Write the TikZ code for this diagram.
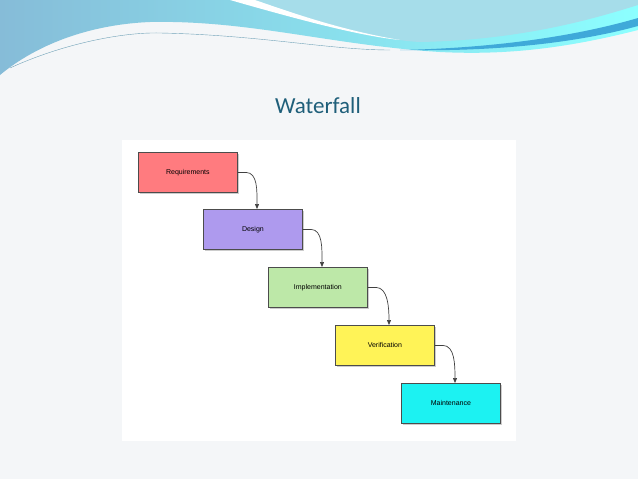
\documentclass[tikz,border=0pt]{standalone}
\usepackage{fontspec}
\setmainfont{Liberation Sans}
\newfontfamily\titlefont{Carlito}
\usetikzlibrary{shadows,arrows.meta}
\definecolor{bgc}{HTML}{F4F6F8}
\definecolor{bandA}{HTML}{86BCD8}
\definecolor{bandB}{HTML}{A6DDEA}
\definecolor{bandC}{HTML}{3FA9D9}
\definecolor{titlec}{HTML}{1F5F7A}
\definecolor{reqc}{HTML}{FF7B7F}
\definecolor{desc}{HTML}{AE9AEE}
\definecolor{impc}{HTML}{BDE8A8}
\definecolor{verc}{HTML}{FFF357}
\definecolor{mainc}{HTML}{1CF2F2}
\begin{document}
\begin{tikzpicture}[x=1pt,y=-1pt,
  stage/.style={draw=black!70,line width=0.8pt,minimum width=99pt,minimum height=40pt,anchor=north west,font=\fontsize{7}{8}\selectfont,drop shadow={shadow xshift=1.5pt,shadow yshift=-2pt,opacity=0.4}},
  flow/.style={draw=black!75,line width=0.7pt,-{Triangle[length=5pt,width=4pt]}}]
\useasboundingbox (0,0) rectangle (638,479);
\fill[bgc] (0,0) rectangle (638,479);
% banner
\shade[left color=bandA,right color=cyan!45!white] (0,0) -- (638,0) -- (638,30) .. controls (560,50) and (500,55) .. (440,52)
  .. controls (330,45) and (250,20) .. (150,22) .. controls (80,25) and (30,50) .. (0,75) -- cycle;
\fill[bandB] (240,0) .. controls (330,25) and (380,40) .. (420,42) .. controls (520,40) and (590,20) .. (638,5) -- (638,0) -- cycle;
\fill[white] (230,0) .. controls (300,20) and (360,36) .. (400,40) .. controls (340,30) and (290,12) .. (255,0) -- cycle;
\draw[cyan!40!gray,line width=0.4pt] (10,68) .. controls (60,45) and (120,32) .. (160,33) .. controls (260,35) and (330,50) .. (390,50);
\fill[bandC] (400,50) .. controls (500,48) and (580,35) .. (638,18) -- (638,26) .. controls (580,42) and (500,52) .. (400,50);
\node[font=\titlefont\fontsize{23}{26}\selectfont,text=titlec] (t) at (318,106) {Waterfall};
\fill[white] (122,140) rectangle (516,441);
\node[stage,fill=reqc] (r) at (138,152) {Requirements};
\node[stage,fill=desc] (d) at (203,209) {Design};
\node[stage,fill=impc] (i) at (268,267) {Implementation};
\node[stage,fill=verc] (v) at (335,325) {Verification};
\node[stage,fill=mainc] (m) at (401,383) {Maintenance};
\foreach \a/\b in {r/d,d/i,i/v,v/m}{
  \draw[flow] (\a.east) -- ++(8,0) .. controls +(12,0) and +(0,-18) .. ([xshift=54pt]\b.north west);
}
\end{tikzpicture}
\end{document}
